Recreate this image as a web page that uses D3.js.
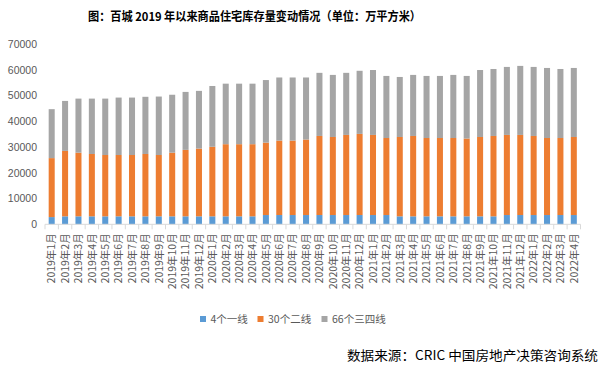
<!DOCTYPE html>
<html>
<head>
<meta charset="utf-8">
<script src="https://cdn.jsdelivr.net/npm/d3@7"></script>
<style>
  html, body { margin: 0; padding: 0; background: #fff; }
  svg { display: block; }
</style>
</head>
<body>
<svg id="chart" width="612" height="368"></svg>
<script>
const categories = [
  "2019年1月","2019年2月","2019年3月","2019年4月","2019年5月","2019年6月","2019年7月","2019年8月","2019年9月","2019年10月","2019年11月","2019年12月",
  "2020年1月","2020年2月","2020年3月","2020年4月","2020年5月","2020年6月","2020年7月","2020年8月","2020年9月","2020年10月","2020年11月","2020年12月",
  "2021年1月","2021年2月","2021年3月","2021年4月","2021年5月","2021年6月","2021年7月","2021年8月","2021年9月","2021年10月","2021年11月","2021年12月",
  "2022年1月","2022年2月","2022年3月","2022年4月"
];
const tier1 = [2800,3100,3100,3100,3100,3100,3100,3100,3100,3100,3100,3100,
  3100,3100,3100,3100,3600,3600,3600,3600,3600,3600,3600,3600,
  3600,3600,3100,3100,3100,3100,3100,3100,3100,3100,3600,3600,
  3600,3600,3600,3600];
const tier2 = [22900,25400,24700,24200,23800,23800,23800,24200,23800,24700,25800,26300,
  27000,28000,28000,28000,28100,28900,28900,29300,30700,30300,31100,31500,
  31100,29900,30800,31200,30400,30400,30400,30200,30800,31200,31100,31100,
  30700,29900,29900,30300];
const tier3 = [19000,19400,21000,21500,21900,22300,22300,22200,22700,22500,22500,22400,
  23600,23500,23500,23500,24300,24500,24500,24100,24500,24100,24100,24500,
  25200,24100,23300,23700,24100,24100,24500,24300,26000,26000,26400,26800,
  26800,27200,26800,26800];
const seriesNames = ["4个一线","30个二线","66个三四线"];
const seriesColors = ["#5B9BD5","#ED7D31","#A5A5A5"];
const yTicks = [0,10000,20000,30000,40000,50000,60000,70000];
const titleText = "图：百城 2019 年以来商品住宅库存量变动情况（单位：万平方米）";
const sourceText = "数据来源：CRIC 中国房地产决策咨询系统";

const svg = d3.select("#chart");
const plotLeft = 45, plotRight = 580.5, plotTop = 44, plotBottom = 224.3;

const rows = categories.map((c, i) => ({cat: c, s0: tier1[i], s1: tier2[i], s2: tier3[i]}));
const stacked = d3.stack().keys(["s0","s1","s2"])(rows);

const x = d3.scaleBand().domain(categories).range([plotLeft, plotRight]).paddingInner(0.55).paddingOuter(0.275);
const y = d3.scaleLinear().domain([0, 70000]).range([plotBottom, plotTop]);

// title
svg.append("text")
  .attr("x", 88).attr("y", 21)
  .attr("font-family", "'Noto Sans CJK SC', sans-serif")
  .attr("font-weight", "bold").attr("font-size", 12).attr("fill", "#000")
  .attr("textLength", 333).attr("lengthAdjust", "spacingAndGlyphs")
  .text(titleText);

// y axis labels
const yAxis = d3.axisLeft(y).tickValues(yTicks).tickSize(0).tickPadding(0).tickFormat(d3.format("d"));
const gy = svg.append("g").attr("transform", "translate(37,0)").call(yAxis);
gy.select(".domain").remove();
gy.selectAll("text").attr("fill", "#595959").attr("font-size", 10.5)
  .attr("font-family", "'Liberation Sans', Arial, sans-serif");

// bars
svg.append("g").selectAll("g").data(stacked).join("g")
  .attr("fill", (d, i) => seriesColors[i])
  .selectAll("rect").data(d => d).join("rect")
  .attr("x", d => x(d.data.cat))
  .attr("width", x.bandwidth())
  .attr("y", d => y(d[1]))
  .attr("height", d => y(d[0]) - y(d[1]));

// x axis
const gx = svg.append("g").attr("transform", `translate(0,${plotBottom})`);
gx.append("line").attr("x1", plotLeft).attr("x2", plotRight).attr("y1", 0).attr("y2", 0)
  .attr("stroke", "#D9D9D9").attr("stroke-width", 1);
const step = x.step();
gx.selectAll("line.tick").data(d3.range(categories.length + 1)).join("line")
  .attr("class", "tick")
  .attr("x1", i => plotLeft + i * step).attr("x2", i => plotLeft + i * step)
  .attr("y1", 0).attr("y2", 5)
  .attr("stroke", "#D9D9D9").attr("stroke-width", 1);
gx.selectAll("text").data(categories).join("text")
  .attr("transform", d => `translate(${x(d) + x.bandwidth() / 2 + 3.8},9) rotate(-90)`)
  .attr("text-anchor", "end")
  .attr("font-size", 10.5).attr("fill", "#595959")
  .attr("font-family", "'Noto Sans CJK SC', sans-serif")
  .text(d => d);

// legend
const legendX = [200, 257.5, 321.5];
const lg = svg.append("g").selectAll("g").data(seriesNames).join("g")
  .attr("transform", (d, i) => `translate(${legendX[i]},316)`);
lg.append("rect").attr("width", 6).attr("height", 6).attr("fill", (d, i) => seriesColors[i]);
lg.append("text").attr("x", 10.5).attr("y", 6.5)
  .attr("font-size", 10.5).attr("fill", "#595959")
  .attr("font-family", "'Noto Sans CJK SC', sans-serif")
  .text(d => d);

// source
svg.append("text")
  .attr("x", 347).attr("y", 360)
  .attr("font-size", 13).attr("fill", "#000")
  .attr("font-family", "'Noto Sans CJK SC', sans-serif")
  .attr("textLength", 251).attr("lengthAdjust", "spacingAndGlyphs")
  .text(sourceText);
</script>
</body>
</html>
